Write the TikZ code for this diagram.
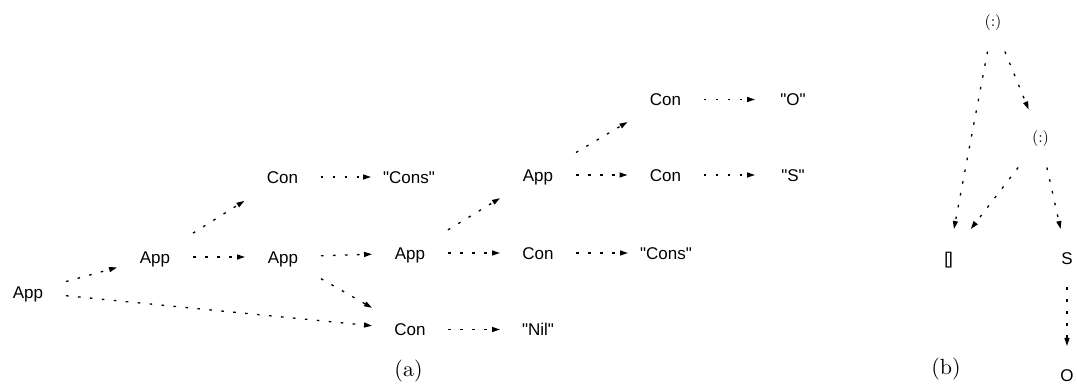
\documentclass[tikz,border=0pt]{standalone}
\usepackage{fontspec}
\newfontfamily\lsans{Liberation Sans}
\usetikzlibrary{arrows.meta}
\begin{document}
\begin{tikzpicture}[x=1pt,y=-1pt,
  lab/.style={font=\lsans\fontsize{17}{20}\selectfont, text height=12.2pt, text depth=0pt,
    inner sep=0pt, outer sep=0pt, minimum width=76pt, minimum height=58pt},
  blab/.style={lab, minimum width=50pt},
  ser/.style={font=\normalfont\normalsize, scale=1.6, inner sep=0pt, outer sep=0pt,
    minimum width=31.25pt, minimum height=36.25pt},
  capt/.style={font=\normalfont\normalsize, scale=2.2, inner sep=0pt},
  link/.style={line width=1.3pt, dash pattern=on 2.6pt off 9.4pt,
    -{Triangle[length=8pt,width=5pt]}},
]
\useasboundingbox (0,0) rectangle (1077,387);
% (a)
\node[lab] (a0) at (28,292) {App};
\node[lab] (a1) at (155,257) {App};
\node[lab] (a2) at (283,257) {App};
\node[lab] (c1) at (282.5,177) {Con};
\node[lab] (s1) at (409,177) {"Cons"};
\node[lab] (a3) at (410,253) {App};
\node[lab] (c2) at (538,253) {Con};
\node[lab] (s2) at (666,253) {"Cons"};
\node[lab] (a4) at (538,175) {App};
\node[lab] (c3) at (665.5,175) {Con};
\node[lab] (s3) at (793,175) {"S"};
\node[lab] (c4) at (665.5,99.5) {Con};
\node[lab] (s4) at (793,99.5) {"O"};
\node[lab] (c5) at (410,329.5) {Con};
\node[lab] (s5) at (538,329.5) {"Nil"};
\foreach \u/\v in {a0/a1,a0/c5,a1/c1,a1/a2,c1/s1,a2/a3,a2/c5,a3/a4,a3/c2,c2/s2,a4/c4,a4/c3,c3/s3,c4/s4,c5/s5}
  \draw[link] (\u) -- (\v);
% (b)
\node[ser] (b1) at (993,22.5) {(:)};
\node[ser] (b2) at (1040.5,138.5) {(:)};
\node[blab] (b3) at (948.5,258) {[\kern-1pt]};
\node[blab] (b4) at (1067,258) {S};
\node[blab] (b5) at (1067,375) {O};
\foreach \u/\v in {b1/b3,b1/b2,b2/b3,b2/b4,b4/b5}
  \draw[link] (\u) -- (\v);
% captions
\node[capt] (ca) at (408.5,371) {(a)};
\node[capt] (cb) at (946,369) {(b)};
\end{tikzpicture}
\end{document}
